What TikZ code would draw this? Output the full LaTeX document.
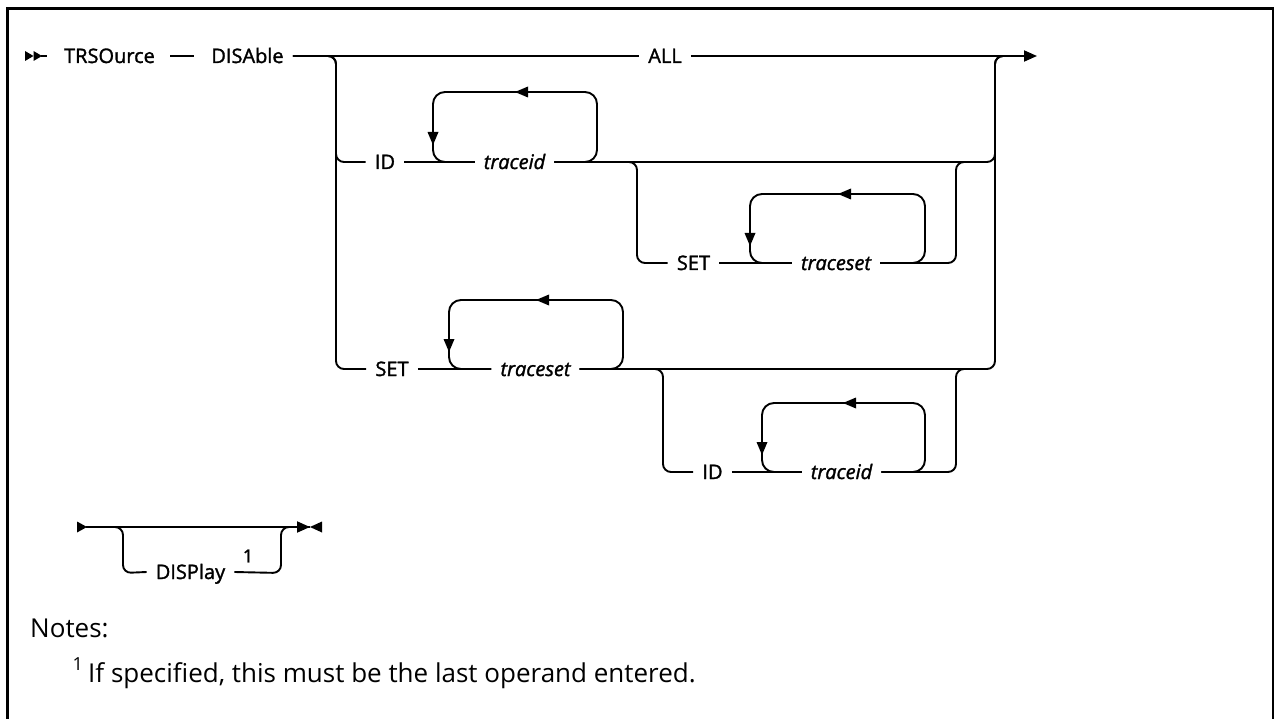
\documentclass[tikz,border=0pt]{standalone}
\usepackage{fontspec}
\setmainfont{Open Sans}
\newfontfamily\diag[FakeBold=1.5]{Open Sans}
\usetikzlibrary{arrows.meta}
\tikzset{
  rail/.style={line width=1.9pt, line join=round},
  lbl/.style={font=\diag\fontsize{20}{24}\selectfont, inner xsep=9pt, inner ysep=0pt, text height=14pt, text depth=0pt, anchor=center},
  var/.style={lbl, font=\diag\itshape\fontsize{20}{24}\selectfont},
  note/.style={font=\fontsize{26}{30}\selectfont, inner sep=0pt, anchor=base west},
  arrL/.pic={\fill (0,0) -- (13,-5.5) -- (13,5.5) -- cycle;},
  arrD/.pic={\fill (0,0) -- (-5.5,-13) -- (5.5,-13) -- cycle;},
  tipR/.style={-{Triangle[length=13pt,width=11pt]}},
}
\begin{document}
\begin{tikzpicture}[x=1pt,y=-1pt]
\useasboundingbox (0,0) rectangle (1274,719);
\fill[white] (0,0) rectangle (1274,719);
\draw[line width=3pt] (7,719) -- (7,8.5) -- (1273,8.5) -- (1273,719);

% ---------- main row ----------
\fill (25,51) -- (33.5,56) -- (25,61) -- cycle;
\fill (33.5,51) -- (42,56) -- (33.5,61) -- cycle;
\coordinate (st) at (41,56);
\coordinate (st1) at (47,56);
\draw[rail] (st) -- (st1);
\node[lbl] (trs) at (109.5,56) {TRSOurce};
\node[lbl] (dis) at (247.5,56) {DISAble};
\node[lbl] (all) at (665,56) {ALL};
\coordinate (mend) at (1037,56);
\coordinate (rj) at (1010,56);
\draw[rail, shorten <=6pt, shorten >=8pt] (trs) -- (dis);
\draw[rail] (dis.east) -- (all.west);
\draw[rail, tipR] (all.east) -- (mend);

% ---------- ID row ----------
\node[lbl] (id1) at (385,162) {ID};
\node[var] (tid1) at (514.5,162) {traceid};
\draw[rail, rounded corners=8pt] (dis.east) -- (336,56) -- (336,162) -- (id1.west);
\draw[rail] (id1.east) -- (tid1.west);
\draw[rail, rounded corners=12pt] (tid1.west) -- (433,162) -- (433,92) -- (597,92) -- (597,162) -- (tid1.east);
\pic at (515,92) {arrL};
\pic at (433,145) {arrD};
\draw[rail, rounded corners=8pt] (tid1.east) -- (995,162) -- (995,56) -- (rj);

% SET sub-branch of ID row
\node[lbl] (set1) at (693.5,263) {SET};
\node[var] (tset1) at (836,263) {traceset};
\coordinate (rj2) at (970,162);
\draw[rail, rounded corners=8pt] (tid1.east) -- (637,162) -- (637,263) -- (set1.west);
\draw[rail] (set1.east) -- (tset1.west);
\draw[rail, rounded corners=12pt] (tset1.west) -- (750,263) -- (750,194) -- (925,194) -- (925,263) -- (tset1.east);
\pic at (838,194) {arrL};
\pic at (750,246) {arrD};
\draw[rail, rounded corners=8pt] (tset1.east) -- (956,263) -- (956,162) -- (rj2);

% ---------- SET row ----------
\node[lbl] (set2) at (392,369) {SET};
\node[var] (tset2) at (535.5,369) {traceset};
\draw[rail, rounded corners=8pt] (dis.east) -- (336,56) -- (336,369) -- (set2.west);
\draw[rail] (set2.east) -- (tset2.west);
\draw[rail, rounded corners=12pt] (tset2.west) -- (449,369) -- (449,300) -- (623,300) -- (623,369) -- (tset2.east);
\pic at (536,300) {arrL};
\pic at (449,352) {arrD};
\draw[rail, rounded corners=8pt] (tset2.east) -- (995,369) -- (995,56) -- (rj);

% ID sub-branch of SET row
\node[lbl] (id2) at (712.5,472) {ID};
\node[var] (tid2) at (841.5,472) {traceid};
\coordinate (rj3) at (970,369);
\draw[rail, rounded corners=8pt] (tset2.east) -- (663,369) -- (663,472) -- (id2.west);
\draw[rail] (id2.east) -- (tid2.west);
\draw[rail, rounded corners=12pt] (tid2.west) -- (762,472) -- (762,403) -- (925,403) -- (925,472) -- (tid2.east);
\pic at (843,403) {arrL};
\pic at (762,455) {arrD};
\draw[rail, rounded corners=8pt] (tid2.east) -- (956,472) -- (956,369) -- (rj3);

% ---------- second diagram ----------
\fill (77,521.5) -- (87,527) -- (77,532.5) -- cycle;
\coordinate (b0) at (86,527);
\coordinate (b1) at (310,527);
\draw[rail, tipR] (b0) -- (b1);
\fill (322,521.5) -- (310,527) -- (322,532.5) -- cycle;
\node[lbl] (disp) at (190.5,572) {DISPlay};
\node[font=\diag\fontsize{18}{20}\selectfont, inner sep=0pt] (sup1) at (248,556) {1};
\draw[rail, rounded corners=8pt] (b0) -- (123,527) -- (123,573) -- (disp.west);
\draw[rail, rounded corners=8pt] (disp.east) -- (281,573) -- (281,527) -- (b1);

% ---------- notes ----------
\node[note] (notes) at (30,637) {Notes:};
\node[note] (ftext) at (88,682) {If specified, this must be the last operand entered.};
\node[font=\fontsize{18}{20}\selectfont, inner sep=0pt, anchor=base east] (fmark) at (83,670) {1};
\end{tikzpicture}
\end{document}
